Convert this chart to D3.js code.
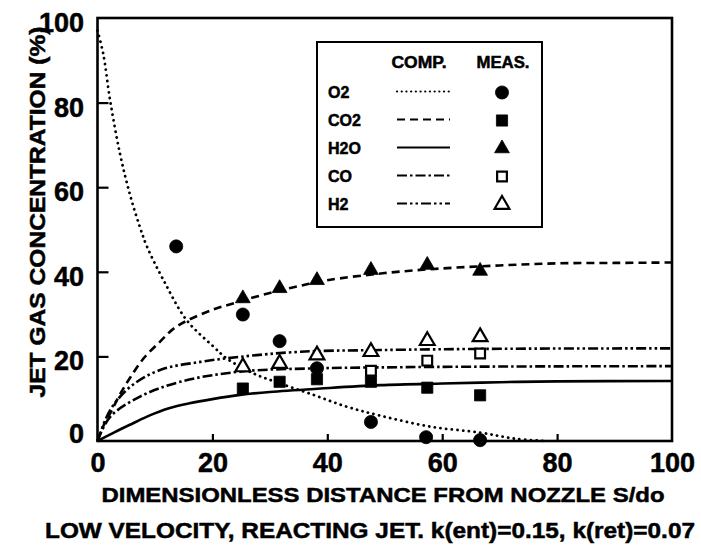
<!DOCTYPE html>
<html>
<head>
<meta charset="utf-8">
<script src="https://cdn.jsdelivr.net/npm/d3@7"></script>
<style>
  html, body { margin: 0; padding: 0; background: #fff; }
  svg { display: block; }
  text { font-family: "Liberation Sans", Arial, Helvetica, sans-serif; font-weight: bold; fill: #000; stroke: #000; stroke-width: 0.5px; }
</style>
</head>
<body>
<svg id="chart" width="701" height="549"></svg>
<script>
// Tick values and labels
const xTicks = [0, 20, 40, 60, 80, 100];
const yTicks = [0, 20, 40, 60, 80, 100];

// Computed profiles (S/do, %)
const compO2 = [[0, 97], [1, 91.5], [2.2, 80.5], [3.9, 68], [5.7, 58], [7.4, 50.5], [8.6, 46],
  [11.5, 38], [15.5, 28.6], [20.2, 22.3], [22.5, 19.5], [27.1, 16], [31.8, 13.6], [37.6, 10.9],
  [43.4, 8.1], [49.2, 6], [57.9, 3.4], [66.6, 2], [72.4, 0.6], [78, 0]];
const compCO2 = [[0, 0], [1, 3.5], [2.2, 6.5], [3.9, 11], [5.7, 15], [8, 19.5], [10.9, 23.5],
  [13.2, 26.5], [15.5, 28.4], [20, 31], [24.8, 33], [30, 35], [35, 36.6], [40, 38], [50, 39.7],
  [60, 40.8], [70, 41.5], [80, 42], [90, 42.1], [100, 42.2]];
const compH2O = [[0, 0], [3, 2.1], [6.2, 4.2], [9, 6.0], [12.3, 7.7], [16, 8.9], [20, 9.9],
  [24.8, 10.9], [30, 11.6], [38.8, 12.4], [49.2, 13.2], [60, 13.6], [70, 13.9], [80, 14.1], [100, 14.2]];
const compCO = [[0, 0], [2.2, 5.7], [7.4, 10.5], [14.4, 14.0], [24.8, 16.4], [38.8, 17.2],
  [49.2, 17.4], [70, 17.6], [100, 17.7]];
const compH2 = [[0, 0], [2.2, 7.3], [5.7, 12.8], [10.9, 16.8], [17.9, 18.7], [24.8, 19.9],
  [35.3, 21.1], [49.2, 21.5], [70, 21.8], [100, 21.9]];

// Measured values
const measO2X = [13.7, 25.3, 31.7, 38.2, 47.6, 57.2, 66.6];
const measO2Y = [46.0, 29.9, 23.6, 17.2, 4.5, 0.9, 0.2];
const measCO2X = [25.3, 31.7, 38.2, 47.6, 57.4, 66.6];
const measCO2Y = [12.4, 14.0, 14.6, 14.0, 12.6, 10.8];
const measH2OX = [25.3, 31.7, 38.2, 47.6, 57.4, 66.6];
const measH2OY = [33.7, 36.1, 38.0, 40.4, 41.6, 40.2];
const measCOX = [47.6, 57.4, 66.6];
const measCOY = [16.6, 19.0, 20.7];
const measH2X = [25.3, 31.7, 38.2, 47.6, 57.4, 66.6];
const measH2Y = [17.5, 18.3, 20.3, 21.1, 23.7, 24.6];

const legendNames = ["O2", "CO2", "H2O", "CO", "H2"];

const svg = d3.select("#chart");
const plotL = 97.5, plotR = 672, plotT = 18, plotB = 441;

const x = d3.scaleLinear().domain([0, 100]).range([plotL, plotR]);
const y = d3.scaleLinear().domain([0, 100]).range([plotB, plotT]);

// Line styles per species
const styles = {
  O2:  { dash: "0.1 5.6", width: 2.8, cap: "round" },
  CO2: { dash: "8 5", width: 2.6, cap: "butt" },
  H2O: { dash: null, width: 2.6, cap: "butt" },
  CO:  { dash: "10 3 2.5 3", width: 2.6, cap: "butt" },
  H2:  { dash: "10 3 2.5 3 2.5 3", width: 2.6, cap: "butt" }
};

const line = d3.line().x(d => x(d[0])).y(d => y(d[1])).curve(d3.curveCatmullRom.alpha(0.5));

const curves = [["O2", compO2], ["CO2", compCO2], ["H2O", compH2O], ["CO", compCO], ["H2", compH2]];
curves.forEach(([name, pts]) => {
  const s = styles[name];
  svg.append("path")
    .attr("d", line(pts))
    .attr("fill", "none")
    .attr("stroke", "#000")
    .attr("stroke-width", s.width)
    .attr("stroke-linecap", s.cap)
    .attr("stroke-dasharray", s.dash);
});

// Marker drawing
const markers = {
  O2:  { type: d3.symbolCircle, size: 135, filled: true },
  CO2: { type: d3.symbolSquare, size: 125, filled: true },
  H2O: { type: d3.symbolTriangle, size: 95, filled: true },
  CO:  { type: d3.symbolSquare, size: 95, filled: false },
  H2:  { type: d3.symbolTriangle, size: 95, filled: false }
};

function drawMarker(g, name, px, py) {
  const m = markers[name];
  g.append("path")
    .attr("d", d3.symbol().type(m.type).size(m.size)())
    .attr("transform", `translate(${px},${py})`)
    .attr("fill", m.filled ? "#000" : "#fff")
    .attr("stroke", "#000")
    .attr("stroke-width", m.filled ? 0.8 : 2.2);
}

const meas = [
  ["CO", measCOX, measCOY], ["CO2", measCO2X, measCO2Y], ["H2", measH2X, measH2Y],
  ["O2", measO2X, measO2Y], ["H2O", measH2OX, measH2OY]
];
const gMeas = svg.append("g");
meas.forEach(([name, xs, ys]) => {
  xs.forEach((v, i) => drawMarker(gMeas, name, x(v), y(ys[i])));
});

// Axes with inward ticks
const gx = svg.append("g").attr("transform", `translate(0,${plotB})`)
  .call(d3.axisBottom(x).tickValues(xTicks).tickSize(-7).tickPadding(0));
gx.selectAll(".tick text")
  .attr("y", 31).attr("dy", 0)
  .style("font-size", "27px");

const gy = svg.append("g").attr("transform", `translate(${plotL},0)`)
  .call(d3.axisLeft(y).tickValues(yTicks).tickSize(-11).tickPadding(13.5));
gy.selectAll(".tick text")
  .attr("dy", d => d === 0 ? "0.05em" : "0.5em")
  .style("font-size", "27px");

[gx, gy].forEach(g => {
  g.select(".domain").remove();
  g.selectAll(".tick line").attr("stroke", "#000").attr("stroke-width", 2.2);
  g.selectAll("text").attr("fill", "#000").attr("stroke", "#000").attr("stroke-width", 0.6)
    .style("font-family", "'Liberation Sans', Arial, sans-serif").style("font-weight", "bold");
});
gx.selectAll(".tick").filter(d => d === 0 || d === 100).select("line").remove();
gy.selectAll(".tick").filter(d => d === 0 || d === 100).select("line").remove();

// Plot frame
svg.append("rect")
  .attr("x", plotL).attr("y", plotT)
  .attr("width", plotR - plotL).attr("height", plotB - plotT)
  .attr("fill", "none").attr("stroke", "#000").attr("stroke-width", 2.6);

// Axis titles
svg.append("text")
  .attr("x", 383).attr("y", 502)
  .attr("text-anchor", "middle")
  .attr("textLength", 563).attr("lengthAdjust", "spacingAndGlyphs")
  .style("font-size", "21px")
  .text("DIMENSIONLESS DISTANCE FROM NOZZLE S/do");

svg.append("text")
  .attr("x", 370).attr("y", 538)
  .attr("text-anchor", "middle")
  .attr("textLength", 650).attr("lengthAdjust", "spacingAndGlyphs")
  .style("font-size", "22px")
  .text("LOW VELOCITY, REACTING JET. k(ent)=0.15, k(ret)=0.07");

svg.append("text")
  .attr("transform", "translate(45,212) rotate(-90)")
  .attr("text-anchor", "middle")
  .attr("textLength", 371).attr("lengthAdjust", "spacingAndGlyphs")
  .style("font-size", "22px")
  .text("JET GAS CONCENTRATION (%)");

// Legend
const lg = svg.append("g");
lg.append("rect")
  .attr("x", 317).attr("y", 42).attr("width", 225).attr("height", 185)
  .attr("fill", "#fff").attr("stroke", "#000").attr("stroke-width", 2);
lg.append("text").attr("x", 419).attr("y", 68).attr("text-anchor", "middle")
  .style("font-size", "16px").attr("textLength", 55).attr("lengthAdjust", "spacingAndGlyphs").text("COMP.");
lg.append("text").attr("x", 503).attr("y", 68).attr("text-anchor", "middle")
  .style("font-size", "16px").attr("textLength", 53).attr("lengthAdjust", "spacingAndGlyphs").text("MEAS.");

legendNames.forEach((name, i) => {
  const cy = 91.5 + i * 28;
  const s = styles[name];
  lg.append("text").attr("x", 328).attr("y", cy + 6)
    .style("font-size", "16px").text(name);
  lg.append("line")
    .attr("x1", 397).attr("x2", 450).attr("y1", cy).attr("y2", cy)
    .attr("stroke", "#000").attr("stroke-width", 2.2)
    .attr("stroke-linecap", s.cap)
    .attr("stroke-dasharray", name === "O2" ? "0.1 4.6" : s.dash);
  drawMarker(lg, name, 502, cy + 1);
});
</script>
</body>
</html>
